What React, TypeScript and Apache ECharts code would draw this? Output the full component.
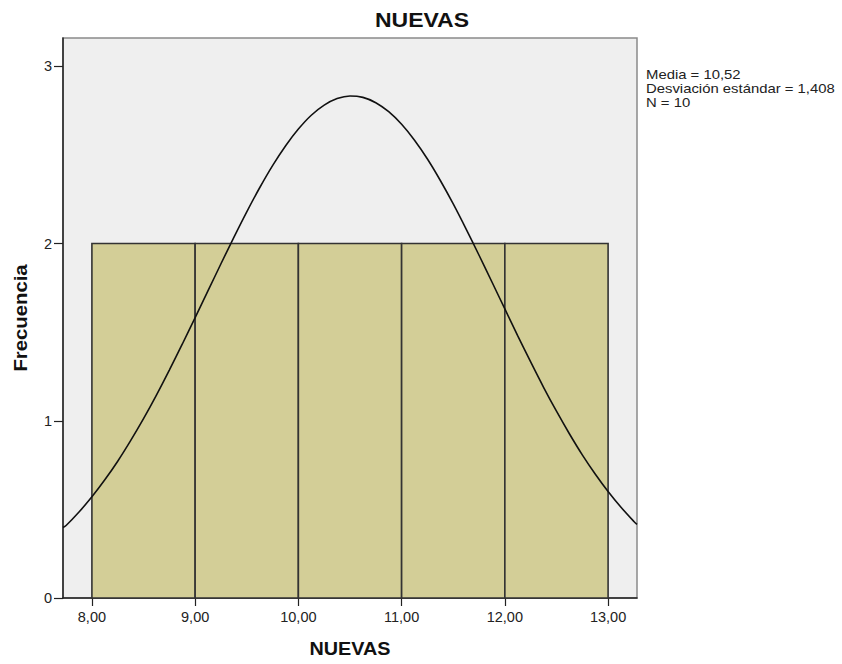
import React, { useEffect, useRef } from "react";
import * as echarts from "echarts";

const binStarts = [8, 9, 10, 11, 12];
const binEnds = [9, 10, 11, 12, 13];
const counts = [2, 2, 2, 2, 2];
const xTicks = [8, 9, 10, 11, 12, 13];
const xTickLabels = ["8,00", "9,00", "10,00", "11,00", "12,00", "13,00"];
const yTicks = [0, 1, 2, 3];
const curveX = [
  7.72, 7.75, 7.875, 8, 8.125, 8.25, 8.375, 8.5, 8.625, 8.75, 8.875, 9, 9.125, 9.25, 9.375, 9.5, 9.625, 9.75, 9.875,
  10, 10.125, 10.25, 10.375, 10.5, 10.625, 10.75, 10.875, 11, 11.125, 11.25, 11.375, 11.5, 11.625, 11.75, 11.875,
  12, 12.125, 12.25, 12.375, 12.5, 12.625, 12.75, 12.875, 13, 13.125, 13.25, 13.28,
];
const curveY = [
  0.398, 0.409, 0.485, 0.571, 0.667, 0.772, 0.888, 1.012, 1.145, 1.286, 1.432, 1.582, 1.734, 1.886, 2.035, 2.179, 2.315, 2.44, 2.551,
  2.646, 2.724, 2.781, 2.818, 2.833, 2.825, 2.795, 2.744, 2.673, 2.583, 2.477, 2.356, 2.224, 2.082, 1.934, 1.783,
  1.631, 1.479, 1.332, 1.189, 1.054, 0.927, 0.808, 0.7, 0.601, 0.512, 0.432, 0.415,
];
const statsLines = ["Media = 10,52", "Desviación estándar = 1,408", "N = 10"];

const FONT = "'Liberation Sans', Arial, sans-serif";

export default function App() {
  const ref = useRef<HTMLDivElement>(null);
  useEffect(() => {
    if (!ref.current) return;
    const chart = echarts.init(ref.current, null, { renderer: "svg" });
    const bars = binStarts.map((s, i) => [s, binEnds[i], counts[i]]);
    const curve = curveX.map((x, i) => [x, curveY[i]]);
    chart.setOption({
      animation: false,
      backgroundColor: "#ffffff",
      textStyle: { fontFamily: FONT },
      grid: {
        left: 63,
        right: 205,
        top: 38,
        bottom: 66,
        show: true,
        backgroundColor: "#efefef",
        borderColor: "#8a8a8a",
        borderWidth: 1.5,
      },
      xAxis: {
        type: "value",
        min: 7.72,
        max: 13.28,
        splitLine: { show: false },
        axisLine: { show: true, onZero: false, lineStyle: { color: "#222", width: 1.5 } },
        axisTick: { show: true, length: 8, customValues: xTicks, lineStyle: { color: "#222", width: 1.2 } },
        axisLabel: {
          customValues: xTicks,
          formatter: (v: number) => xTickLabels[xTicks.indexOf(Math.round(v))] ?? "",
          color: "#222",
          fontSize: 14.5,
          fontFamily: FONT,
          margin: 11,
        },
      },
      yAxis: {
        type: "value",
        min: 0,
        max: 3.16,
        splitLine: { show: false },
        axisLine: { show: true, lineStyle: { color: "#222", width: 1.5 } },
        axisTick: { show: true, length: 9, customValues: yTicks, lineStyle: { color: "#222", width: 1.2 } },
        axisLabel: {
          customValues: yTicks,
          color: "#222",
          fontSize: 14.5,
          fontFamily: FONT,
          margin: 11,
        },
      },
      series: [
        {
          type: "custom",
          data: bars,
          z: 2,
          renderItem: (params: any, api: any) => {
            const p0 = api.coord([api.value(0), 0]);
            const p1 = api.coord([api.value(1), api.value(2)]);
            return {
              type: "rect",
              shape: { x: p0[0], y: p1[1], width: p1[0] - p0[0], height: p0[1] - p1[1] },
              style: { fill: "#d3ce97", stroke: "#333333", lineWidth: 1.6 },
            };
          },
        },
        {
          type: "line",
          data: curve,
          smooth: 0.3,
          showSymbol: false,
          z: 5,
          lineStyle: { color: "#111", width: 1.6 },
        },
      ],
      graphic: [
        {
          type: "text",
          x: 422,
          y: 20,
          scaleX: 1.15,
          style: { text: "NUEVAS", font: `bold 20px ${FONT}`, fill: "#111", align: "center", verticalAlign: "middle" },
        },
        {
          type: "text",
          x: 350,
          y: 649,
          scaleX: 1.1,
          style: { text: "NUEVAS", font: `bold 18px ${FONT}`, fill: "#111", align: "center", verticalAlign: "middle" },
        },
        {
          type: "text",
          x: 20,
          y: 318,
          rotation: Math.PI / 2,
          scaleX: 1.07,
          style: { text: "Frecuencia", font: `bold 19px ${FONT}`, fill: "#111", align: "center", verticalAlign: "middle" },
        },
        {
          type: "text",
          x: 646,
          y: 68,
          scaleX: 1.24,
          style: { text: statsLines.join("\n"), font: `12px ${FONT}`, lineHeight: 14, fill: "#222" },
        },
      ],
    });
    return () => chart.dispose();
  }, []);
  return <div ref={ref} style={{ width: 842, height: 664, position: "absolute", left: 0, top: 0 }} />;
}
